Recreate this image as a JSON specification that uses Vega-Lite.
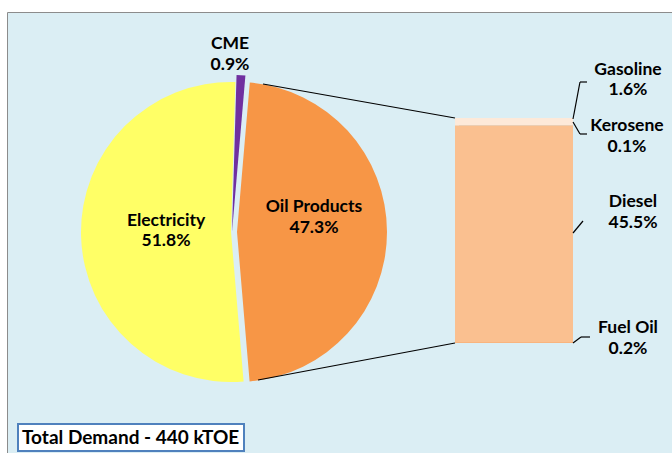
{
  "$schema": "https://vega.github.io/schema/vega-lite/v6.json",
  "width": 672,
  "height": 453,
  "autosize": {"type": "fit", "contains": "padding"},
  "padding": {"left": 7, "top": 12, "right": 0, "bottom": 0},
  "background": "white",
  "datasets": {
    "demand": [
      {"sector": "Oil Products", "share": 47.3},
      {"sector": "Electricity", "share": 51.8},
      {"sector": "CME", "share": 0.9}
    ],
    "oil": [
      {"product": "Fuel Oil", "share": 0.2},
      {"product": "Diesel", "share": 45.5},
      {"product": "Kerosene", "share": 0.1},
      {"product": "Gasoline", "share": 1.6}
    ],
    "note": [{}]
  },
  "resolve": {"scale": {"y": "independent"}},
  "layer": [
    {
      "data": {"name": "demand"},
      "transform": [
        {"window": [{"op": "row_number", "as": "i"}]},
        {"stack": "share", "groupby": [], "sort": [{"field": "i"}], "as": ["t0", "t1"]},
        {"filter": "datum.sector === 'Electricity'"}
      ],
      "mark": {"type": "arc", "radius": 150},
      "encoding": {
        "x": {"datum": 224, "type": "quantitative", "scale": {"domain": [0, 665], "nice": false}, "axis": null},
        "y": {"datum": 220, "type": "quantitative", "scale": {"domain": [0, 441], "nice": false, "reverse": true}, "axis": null},
        "theta": {"field": "t0", "type": "quantitative", "scale": {"domain": [0, 100], "range": [0.0855, 6.3687]}},
        "theta2": {"field": "t1"},
        "color": {"field": "sector", "type": "nominal", "legend": null,
          "scale": {"domain": ["Oil Products", "Electricity", "CME", "Fuel Oil", "Diesel", "Kerosene", "Gasoline"],
                    "range": ["#F79646", "#FFFF66", "#7030A0", "#F9B47E", "#FAC090", "#F79646", "#FDE9D9"]}}
      }
    },
    {
      "data": {"name": "demand"},
      "transform": [
        {"window": [{"op": "row_number", "as": "i"}]},
        {"stack": "share", "groupby": [], "sort": [{"field": "i"}], "as": ["t0", "t1"]},
        {"filter": "datum.sector === 'CME'"}
      ],
      "mark": {"type": "arc", "radius": 157},
      "encoding": {
        "x": {"datum": 225, "type": "quantitative", "scale": {"domain": [0, 665], "nice": false}, "axis": null},
        "y": {"datum": 220, "type": "quantitative", "scale": {"domain": [0, 441], "nice": false, "reverse": true}, "axis": null},
        "theta": {"field": "t0", "type": "quantitative", "scale": {"domain": [0, 100], "range": [0.0855, 6.3687]}},
        "theta2": {"field": "t1"},
        "color": {"field": "sector", "type": "nominal", "legend": null}
      }
    },
    {
      "data": {"name": "demand"},
      "transform": [
        {"window": [{"op": "row_number", "as": "i"}]},
        {"stack": "share", "groupby": [], "sort": [{"field": "i"}], "as": ["t0", "t1"]},
        {"filter": "datum.sector === 'Oil Products'"}
      ],
      "mark": {"type": "arc", "radius": 150},
      "encoding": {
        "x": {"datum": 230, "type": "quantitative", "scale": {"domain": [0, 665], "nice": false}, "axis": null},
        "y": {"datum": 220, "type": "quantitative", "scale": {"domain": [0, 441], "nice": false, "reverse": true}, "axis": null},
        "theta": {"field": "t0", "type": "quantitative", "scale": {"domain": [0, 100], "range": [0.0855, 6.3687]}},
        "theta2": {"field": "t1"},
        "color": {"field": "sector", "type": "nominal", "legend": null}
      }
    },
    {
      "data": {"name": "oil"},
      "transform": [
        {"aggregate": [{"op": "sum", "field": "share", "as": "total"}]}
      ],
      "mark": {"type": "rect", "fill": "#7F8C90", "opacity": 0.35, "xOffset": 4, "yOffset": 3},
      "encoding": {
        "x": {"datum": 448, "type": "quantitative", "scale": {"domain": [0, 665], "nice": false}, "axis": null},
        "x2": {"datum": 566},
        "y": {"field": "total", "type": "quantitative", "scale": {"domain": [-23.173, 69.731], "nice": false, "zero": false}, "axis": null},
        "y2": {"datum": 0}
      }
    },
    {
      "data": {"name": "oil"},
      "transform": [
        {"window": [{"op": "row_number", "as": "i"}]},
        {"stack": "share", "groupby": [], "sort": [{"field": "i"}], "as": ["s0", "s1"]}
      ],
      "mark": {"type": "rect"},
      "encoding": {
        "x": {"datum": 448, "type": "quantitative", "scale": {"domain": [0, 665], "nice": false}, "axis": null},
        "x2": {"datum": 566},
        "y": {"field": "s0", "type": "quantitative", "scale": {"domain": [-23.173, 69.731], "nice": false, "zero": false}, "axis": null},
        "y2": {"field": "s1"},
        "color": {"field": "product", "type": "nominal", "legend": null}
      }
    },
    {
      "data": {"name": "note"},
      "mark": {"type": "rule", "color": "#000000", "strokeWidth": 1.2},
      "encoding": {
        "x": {"datum": 256, "type": "quantitative", "scale": {"domain": [0, 665], "nice": false}, "axis": null},
        "y": {"datum": 72, "type": "quantitative", "scale": {"domain": [0, 441], "nice": false, "reverse": true}, "axis": null},
        "x2": {"datum": 448}, "y2": {"datum": 106}
      }
    },
    {
      "data": {"name": "note"},
      "mark": {"type": "rule", "color": "#000000", "strokeWidth": 1.2},
      "encoding": {
        "x": {"datum": 251, "type": "quantitative", "scale": {"domain": [0, 665], "nice": false}, "axis": null},
        "y": {"datum": 368, "type": "quantitative", "scale": {"domain": [0, 441], "nice": false, "reverse": true}, "axis": null},
        "x2": {"datum": 448}, "y2": {"datum": 331}
      }
    },
    {
      "data": {"name": "note"},
      "mark": {"type": "rule", "color": "#000000", "strokeWidth": 1.2},
      "encoding": {
        "x": {"datum": 566, "type": "quantitative", "scale": {"domain": [0, 665], "nice": false}, "axis": null},
        "y": {"datum": 107, "type": "quantitative", "scale": {"domain": [0, 441], "nice": false, "reverse": true}, "axis": null},
        "x2": {"datum": 573}, "y2": {"datum": 70}
      }
    },
    {
      "data": {"name": "note"},
      "mark": {"type": "rule", "color": "#000000", "strokeWidth": 1.2},
      "encoding": {
        "x": {"datum": 573, "type": "quantitative", "scale": {"domain": [0, 665], "nice": false}, "axis": null},
        "y": {"datum": 70, "type": "quantitative", "scale": {"domain": [0, 441], "nice": false, "reverse": true}, "axis": null},
        "x2": {"datum": 580}, "y2": {"datum": 70}
      }
    },
    {
      "data": {"name": "note"},
      "mark": {"type": "rule", "color": "#000000", "strokeWidth": 1.2},
      "encoding": {
        "x": {"datum": 566, "type": "quantitative", "scale": {"domain": [0, 665], "nice": false}, "axis": null},
        "y": {"datum": 110, "type": "quantitative", "scale": {"domain": [0, 441], "nice": false, "reverse": true}, "axis": null},
        "x2": {"datum": 573}, "y2": {"datum": 122}
      }
    },
    {
      "data": {"name": "note"},
      "mark": {"type": "rule", "color": "#000000", "strokeWidth": 1.2},
      "encoding": {
        "x": {"datum": 573, "type": "quantitative", "scale": {"domain": [0, 665], "nice": false}, "axis": null},
        "y": {"datum": 122, "type": "quantitative", "scale": {"domain": [0, 441], "nice": false, "reverse": true}, "axis": null},
        "x2": {"datum": 580}, "y2": {"datum": 122}
      }
    },
    {
      "data": {"name": "note"},
      "mark": {"type": "rule", "color": "#000000", "strokeWidth": 1.2},
      "encoding": {
        "x": {"datum": 566, "type": "quantitative", "scale": {"domain": [0, 665], "nice": false}, "axis": null},
        "y": {"datum": 221, "type": "quantitative", "scale": {"domain": [0, 441], "nice": false, "reverse": true}, "axis": null},
        "x2": {"datum": 576}, "y2": {"datum": 209}
      }
    },
    {
      "data": {"name": "note"},
      "mark": {"type": "rule", "color": "#000000", "strokeWidth": 1.2},
      "encoding": {
        "x": {"datum": 566, "type": "quantitative", "scale": {"domain": [0, 665], "nice": false}, "axis": null},
        "y": {"datum": 331, "type": "quantitative", "scale": {"domain": [0, 441], "nice": false, "reverse": true}, "axis": null},
        "x2": {"datum": 574}, "y2": {"datum": 325}
      }
    },
    {
      "data": {"name": "note"},
      "mark": {"type": "rule", "color": "#000000", "strokeWidth": 1.2},
      "encoding": {
        "x": {"datum": 574, "type": "quantitative", "scale": {"domain": [0, 665], "nice": false}, "axis": null},
        "y": {"datum": 325, "type": "quantitative", "scale": {"domain": [0, 441], "nice": false, "reverse": true}, "axis": null},
        "x2": {"datum": 583}, "y2": {"datum": 325}
      }
    },
    {
      "data": {"name": "demand"},
      "transform": [
        {"filter": "datum.sector === 'CME'"},
        {"calculate": "datum.sector + '\\n' + format(datum.share, '.1f') + '%'", "as": "label"}
      ],
      "mark": {"type": "text"},
      "encoding": {
        "x": {"datum": 223, "type": "quantitative", "scale": {"domain": [0, 665], "nice": false}, "axis": null},
        "y": {"datum": 32, "type": "quantitative", "scale": {"domain": [0, 441], "nice": false, "reverse": true}, "axis": null},
        "text": {"field": "label"}
      }
    },
    {
      "data": {"name": "demand"},
      "transform": [
        {"filter": "datum.sector === 'Electricity'"},
        {"calculate": "datum.sector + '\\n' + format(datum.share, '.1f') + '%'", "as": "label"}
      ],
      "mark": {"type": "text"},
      "encoding": {
        "x": {"datum": 159, "type": "quantitative", "scale": {"domain": [0, 665], "nice": false}, "axis": null},
        "y": {"datum": 208.5, "type": "quantitative", "scale": {"domain": [0, 441], "nice": false, "reverse": true}, "axis": null},
        "text": {"field": "label"}
      }
    },
    {
      "data": {"name": "demand"},
      "transform": [
        {"filter": "datum.sector === 'Oil Products'"},
        {"calculate": "datum.sector + '\\n' + format(datum.share, '.1f') + '%'", "as": "label"}
      ],
      "mark": {"type": "text"},
      "encoding": {
        "x": {"datum": 307, "type": "quantitative", "scale": {"domain": [0, 665], "nice": false}, "axis": null},
        "y": {"datum": 195, "type": "quantitative", "scale": {"domain": [0, 441], "nice": false, "reverse": true}, "axis": null},
        "text": {"field": "label"}
      }
    },
    {
      "data": {"name": "oil"},
      "transform": [
        {"filter": "datum.product === 'Gasoline'"},
        {"calculate": "datum.product + '\\n' + format(datum.share, '.1f') + '%'", "as": "label"}
      ],
      "mark": {"type": "text"},
      "encoding": {
        "x": {"datum": 621, "type": "quantitative", "scale": {"domain": [0, 665], "nice": false}, "axis": null},
        "y": {"datum": 57.5, "type": "quantitative", "scale": {"domain": [0, 441], "nice": false, "reverse": true}, "axis": null},
        "text": {"field": "label"}
      }
    },
    {
      "data": {"name": "oil"},
      "transform": [
        {"filter": "datum.product === 'Kerosene'"},
        {"calculate": "datum.product + '\\n' + format(datum.share, '.1f') + '%'", "as": "label"}
      ],
      "mark": {"type": "text"},
      "encoding": {
        "x": {"datum": 620, "type": "quantitative", "scale": {"domain": [0, 665], "nice": false}, "axis": null},
        "y": {"datum": 114, "type": "quantitative", "scale": {"domain": [0, 441], "nice": false, "reverse": true}, "axis": null},
        "text": {"field": "label"}
      }
    },
    {
      "data": {"name": "oil"},
      "transform": [
        {"filter": "datum.product === 'Diesel'"},
        {"calculate": "datum.product + '\\n' + format(datum.share, '.1f') + '%'", "as": "label"}
      ],
      "mark": {"type": "text"},
      "encoding": {
        "x": {"datum": 626, "type": "quantitative", "scale": {"domain": [0, 665], "nice": false}, "axis": null},
        "y": {"datum": 190, "type": "quantitative", "scale": {"domain": [0, 441], "nice": false, "reverse": true}, "axis": null},
        "text": {"field": "label"}
      }
    },
    {
      "data": {"name": "oil"},
      "transform": [
        {"filter": "datum.product === 'Fuel Oil'"},
        {"calculate": "datum.product + '\\n' + format(datum.share, '.1f') + '%'", "as": "label"}
      ],
      "mark": {"type": "text"},
      "encoding": {
        "x": {"datum": 621, "type": "quantitative", "scale": {"domain": [0, 665], "nice": false}, "axis": null},
        "y": {"datum": 316, "type": "quantitative", "scale": {"domain": [0, 441], "nice": false, "reverse": true}, "axis": null},
        "text": {"field": "label"}
      }
    },
    {
      "data": {"name": "note"},
      "mark": {"type": "rect", "fill": "#FFFFFF", "stroke": "#4F81BD", "strokeWidth": 2},
      "encoding": {
        "x": {"datum": 11, "type": "quantitative", "scale": {"domain": [0, 665], "nice": false}, "axis": null},
        "x2": {"datum": 237},
        "y": {"datum": 412, "type": "quantitative", "scale": {"domain": [0, 441], "nice": false, "reverse": true}, "axis": null},
        "y2": {"datum": 439}
      }
    },
    {
      "data": {"name": "note"},
      "mark": {"type": "text", "text": "Total Demand - 440 kTOE", "align": "left", "fontSize": 19},
      "encoding": {
        "x": {"datum": 15, "type": "quantitative", "scale": {"domain": [0, 665], "nice": false}, "axis": null},
        "y": {"datum": 426, "type": "quantitative", "scale": {"domain": [0, 441], "nice": false, "reverse": true}, "axis": null}
      }
    }
  ],
  "config": {
    "view": {"fill": "#DBEEF4", "stroke": "#8C8C8C", "strokeWidth": 1},
    "text": {"font": "Lato", "fontWeight": "bold", "fontSize": 17.5, "color": "#000000", "align": "center", "baseline": "middle", "lineBreak": "\n", "lineHeight": 20.5}
  }
}
